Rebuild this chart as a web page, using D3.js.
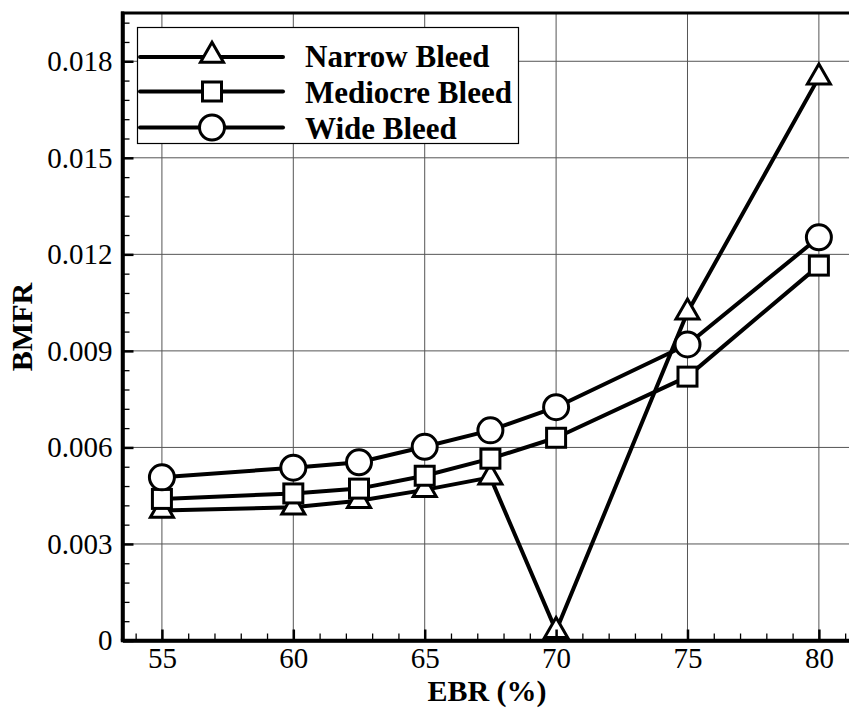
<!DOCTYPE html>
<html>
<head>
<meta charset="utf-8">
<script src="https://cdn.jsdelivr.net/npm/d3@7"></script>
<style>
  html, body { margin: 0; padding: 0; background: #fff; }
  svg { display: block; }
  text { font-family: "Liberation Serif", "DejaVu Serif", "Noto Serif", serif; fill: #000; }
</style>
</head>
<body>
<svg id="chart" width="849" height="708"></svg>
<script>
// ---- data ----
const ebr = [55, 60, 62.5, 65, 67.5, 70, 75, 80];
const narrowBleed   = [0.00404, 0.00414, 0.00434, 0.00468, 0.00507, 0.0003, 0.0102, 0.0175];
const mediocreBleed = [0.0044, 0.00457, 0.00472, 0.00512, 0.00565, 0.0063, 0.0082, 0.01165];
const wideBleed     = [0.00507, 0.00537, 0.00554, 0.00602, 0.00653, 0.00725, 0.0092, 0.01253];
const seriesNames = ["Narrow Bleed", "Mediocre Bleed", "Wide Bleed"];
const xTicks = [55, 60, 65, 70, 75, 80];
const yTicks = [0, 0.003, 0.006, 0.009, 0.012, 0.015, 0.018];
const yTickLabels = ["0", "0.003", "0.006", "0.009", "0.012", "0.015", "0.018"];
const xTitle = "EBR (%)";
const yTitle = "BMFR";

const FONT = '"Liberation Serif", "DejaVu Serif", "Noto Serif", serif';
const svg = d3.select("#chart");
const L = 122.5, R = 858.3, T = 13, B = 640.5;
const x = d3.scaleLinear().domain([53.5, 81.5]).range([L, R]);
const y = d3.scaleLinear().domain([0, 0.0195]).range([B, T]);

// grid
const grid = svg.append("g").attr("stroke", "#555").attr("stroke-width", 1);
grid.selectAll(".vg").data(xTicks).join("line")
  .attr("x1", d => x(d)).attr("x2", d => x(d)).attr("y1", T).attr("y2", B);
grid.selectAll(".hg").data(yTicks.filter(d => d > 0)).join("line")
  .attr("x1", L).attr("x2", R).attr("y1", d => y(d)).attr("y2", d => y(d));

// series
const series = [
  { name: seriesNames[0], values: narrowBleed, shape: "tri" },
  { name: seriesNames[1], values: mediocreBleed, shape: "sq" },
  { name: seriesNames[2], values: wideBleed, shape: "circ" }
];
const line = d3.line().x(d => x(d[0])).y(d => y(d[1]));

function drawMarker(g, shape, cx, cy) {
  if (shape === "tri") {
    const s = 23, h = s * Math.sqrt(3) / 2;
    g.append("path")
      .attr("d", `M${cx},${cy - 2*h/3} L${cx + s/2},${cy + h/3} L${cx - s/2},${cy + h/3} Z`)
      .attr("fill", "#fff").attr("stroke", "#000").attr("stroke-width", 3).attr("stroke-linejoin", "miter");
  } else if (shape === "sq") {
    const s = 19;
    g.append("rect").attr("x", cx - s/2).attr("y", cy - s/2).attr("width", s).attr("height", s)
      .attr("fill", "#fff").attr("stroke", "#000").attr("stroke-width", 3);
  } else {
    g.append("circle").attr("cx", cx).attr("cy", cy).attr("r", 12.5)
      .attr("fill", "#fff").attr("stroke", "#000").attr("stroke-width", 3);
  }
}

series.forEach(s => {
  const pts = ebr.map((e, i) => [e, s.values[i]]);
  const g = svg.append("g");
  g.append("path").attr("d", line(pts)).attr("fill", "none")
    .attr("stroke", "#000").attr("stroke-width", 4).attr("stroke-linejoin", "round");
  pts.forEach(p => drawMarker(g, s.shape, x(p[0]), y(p[1])));
});

// axes
const xAxis = svg.append("g").attr("transform", `translate(0,${B})`)
  .call(d3.axisBottom(x).tickValues(xTicks).tickSize(-11).tickSizeOuter(0).tickPadding(7).tickFormat(d3.format("d")));
const xMinor = svg.append("g").attr("transform", `translate(0,${B})`)
  .call(d3.axisBottom(x).tickValues(d3.range(54, 82, 1).filter(v => !xTicks.includes(v))).tickSize(-7).tickSizeOuter(0).tickFormat(""));
const yAxis = svg.append("g").attr("transform", `translate(${L},0)`)
  .call(d3.axisLeft(y).tickValues(yTicks).tickSize(-11).tickSizeOuter(0).tickPadding(10).tickFormat((d, i) => yTickLabels[i]));
const yMinorVals = d3.range(1, 33).map(i => +(i * 0.0006).toFixed(4)).filter(v => v < 0.0195 && !yTicks.some(t => Math.abs(t - v) < 1e-7));
const yMinor = svg.append("g").attr("transform", `translate(${L},0)`)
  .call(d3.axisLeft(y).tickValues(yMinorVals).tickSize(-7).tickSizeOuter(0).tickFormat(""));

[xAxis, yAxis].forEach(a => {
  a.attr("font-family", FONT);
  a.select(".domain").attr("stroke", "#000").attr("stroke-width", 3.5);
  a.selectAll(".tick line").attr("stroke", "#000").attr("stroke-width", 2.5);
  a.selectAll(".tick text").attr("font-family", FONT).style("font-size", "29px").style("font-family", FONT);
});
[xMinor, yMinor].forEach(a => {
  a.select(".domain").remove();
  a.selectAll(".tick line").attr("stroke", "#000").attr("stroke-width", 1.3);
});
// frame
svg.append("line").attr("x1", L - 1.5).attr("x2", R).attr("y1", T).attr("y2", T)
  .attr("stroke", "#000").attr("stroke-width", 3);
svg.append("line").attr("x1", L).attr("x2", L).attr("y1", T - 1.5).attr("y2", B)
  .attr("stroke", "#000").attr("stroke-width", 3.5);
svg.append("line").attr("x1", L - 1.7).attr("x2", R).attr("y1", B).attr("y2", B)
  .attr("stroke", "#000").attr("stroke-width", 3.5);

// titles
svg.append("text").attr("x", 487).attr("y", 701).attr("text-anchor", "middle")
  .style("font-family", FONT).style("font-size", "30px").style("font-weight", "bold").text(xTitle);
svg.append("text").attr("transform", "translate(32,327) rotate(-90)").attr("text-anchor", "middle")
  .style("font-family", FONT).style("font-size", "30px").style("font-weight", "bold").text(yTitle);

// legend
const lg = svg.append("g");
lg.append("rect").attr("x", 137.5).attr("y", 27.5).attr("width", 381).attr("height", 116)
  .attr("fill", "#fff").attr("stroke", "#000").attr("stroke-width", 1.2);
const rowY = [55.5, 91.5, 127.5];
series.forEach((s, i) => {
  const yy = rowY[i];
  const ly = yy + (s.shape === "tri" ? 1.5 : 0);
  lg.append("line").attr("x1", 140).attr("x2", 283).attr("y1", ly).attr("y2", ly)
    .attr("stroke", "#000").attr("stroke-width", 4).attr("stroke-linecap", "round");
  drawMarker(lg, s.shape, 212, yy);
  lg.append("text").attr("x", 305).attr("y", yy + 11)
    .style("font-family", FONT).style("font-size", "31px").style("font-weight", "bold").text(s.name);
});
</script>
</body>
</html>
